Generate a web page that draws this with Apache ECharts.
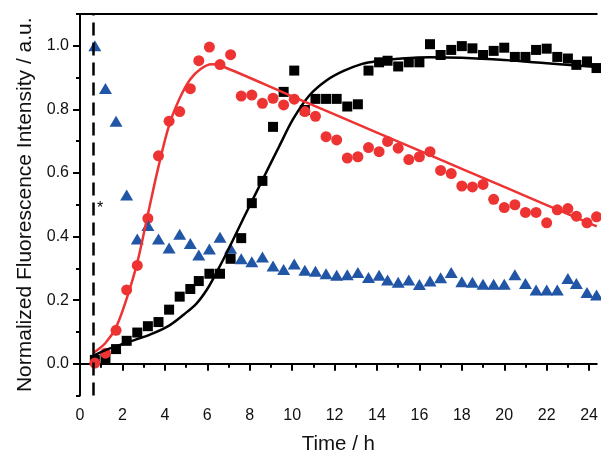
<!DOCTYPE html>
<html>
<head>
<meta charset="utf-8">
<script src="https://cdn.jsdelivr.net/npm/echarts@6/dist/echarts.min.js"></script>
<style>
  html, body { margin: 0; padding: 0; background: #fff; }
  #chart { width: 601px; height: 460px; }
</style>
</head>
<body>
<div id="chart"></div>
<script>
// Sampling times (h), shared by all three measurements
const times = [0.7, 1.2, 1.7, 2.2, 2.7, 3.2, 3.7, 4.2, 4.7, 5.2, 5.6, 6.1, 6.6, 7.1, 7.6,
  8.1, 8.6, 9.1, 9.6, 10.1, 10.6, 11.1, 11.6, 12.1, 12.6, 13.1, 13.6, 14.1, 14.5, 15.0,
  15.5, 16.0, 16.5, 17.0, 17.5, 18.0, 18.5, 19.0, 19.5, 20.0, 20.5, 21.0, 21.5, 22.0,
  22.5, 23.0, 23.4, 23.9, 24.35];

// Normalized ThT fluorescence
const wildtype = [0.012, 0.015, 0.046, 0.072, 0.098, 0.118, 0.131, 0.170, 0.211, 0.235,
  0.260, 0.283, 0.283, 0.330, 0.395, 0.505, 0.575, 0.745, 0.855, 0.922, 0.798, 0.833,
  0.833, 0.833, 0.809, 0.816, 0.922, 0.948, 0.953, 0.935, 0.948, 0.948, 1.005, 0.971,
  0.987, 0.999, 0.992, 0.971, 0.984, 0.994, 0.965, 0.965, 0.987, 0.991, 0.965, 0.960,
  0.940, 0.951, 0.930];

const octanoyl = [0.002, 0.033, 0.105, 0.232, 0.309, 0.457, 0.654, 0.763, 0.793, 0.865,
  0.953, 0.996, 0.941, 0.972, 0.842, 0.845, 0.819, 0.835, 0.814, 0.832, 0.793, 0.778,
  0.714, 0.704, 0.647, 0.651, 0.680, 0.667, 0.699, 0.678, 0.642, 0.651, 0.667, 0.608,
  0.598, 0.559, 0.556, 0.564, 0.517, 0.491, 0.500, 0.476, 0.476, 0.443, 0.484, 0.488,
  0.464, 0.443, 0.462];

const palmitoyl = [1.000, 0.866, 0.763, 0.531, 0.392, 0.435, 0.392, 0.364, 0.407, 0.378,
  0.342, 0.361, 0.398, 0.363, 0.330, 0.321, 0.336, 0.307, 0.296, 0.314, 0.294, 0.291,
  0.283, 0.278, 0.280, 0.287, 0.271, 0.278, 0.263, 0.256, 0.263, 0.249, 0.260, 0.270,
  0.287, 0.258, 0.256, 0.250, 0.250, 0.250, 0.280, 0.252, 0.232, 0.232, 0.232, 0.268,
  0.252, 0.224, 0.216];

// Fitted kinetic curves [time, intensity]
const wildtypeFit = [[0.65, 0.026], [1.2, 0.043], [1.8, 0.057], [2.6, 0.075], [3.35, 0.093],
  [4.2, 0.12], [4.9, 0.155], [5.5, 0.19], [6.0, 0.235], [6.5, 0.295], [7.0, 0.36],
  [7.8, 0.47], [8.6, 0.578], [9.4, 0.685], [10.05, 0.77], [10.8, 0.843], [11.6, 0.89],
  [12.4, 0.92], [13.3, 0.943], [14.0, 0.952], [15.0, 0.959], [16.5, 0.964], [18.0, 0.962],
  [20.0, 0.955], [22.0, 0.945], [24.36, 0.933]];

const octanoylFit = [[0.65, 0.035], [1.2, 0.065], [1.7, 0.115], [2.2, 0.205], [2.7, 0.318],
  [3.2, 0.47], [3.7, 0.62], [4.2, 0.75], [4.7, 0.835], [5.2, 0.895], [5.7, 0.928],
  [6.2, 0.942], [6.62, 0.938], [10.0, 0.841], [14.0, 0.727], [18.0, 0.613],
  [22.0, 0.499], [24.36, 0.432]];

// Legend entries
const seriesNames = ['Aβ(1-40) Wildtype', 'octanoyl-Aβ(1-40)', 'palmitoyl-Aβ(1-40)'];

// Tick positions
const xMajor = [0, 2, 4, 6, 8, 10, 12, 14, 16, 18, 20, 22, 24];
const xMinor = [1, 3, 5, 7, 9, 11, 13, 15, 17, 19, 21, 23];
const yMajor = [0, 0.2, 0.4, 0.6, 0.8, 1.0];
const yMinor = [-0.1, 0.1, 0.3, 0.5, 0.7, 0.9, 1.1];

const lagTime = 0.62;       // dashed marker line (h)
const starPos = [0.95, 0.489];

const X_MIN = 0, X_MAX = 24.36, Y_MIN = -0.1, Y_MAX = 1.1;
const FONT = 'Liberation Sans, Arial, Helvetica, sans-serif';
const INK = '#000';
const RED = '#ee3333';
const BLUE = '#2155a5';
const SWATCH = 'path://M0,0H10V10H0Z';

const pair = vals => times.map((t, i) => [t, vals[i]]);

const chart = echarts.init(document.getElementById('chart'), null, { renderer: 'canvas' });

const tickStyle = { color: INK, width: 2 };
const noHover = { legendHoverLink: false, emphasis: { disabled: true } };

chart.setOption({
  animation: false,
  backgroundColor: '#fff',
  textStyle: { fontFamily: FONT },
  grid: { left: 80, right: 0, top: 14, bottom: 58, containLabel: false },
  xAxis: [
    {
      type: 'value', min: X_MIN, max: X_MAX, position: 'bottom',
      name: 'Time / h', nameLocation: 'middle', nameGap: 49,
      nameTextStyle: { fontSize: 20.5, color: '#111', fontFamily: FONT, align: 'center', verticalAlign: 'middle' },
      axisLine: { show: true, lineStyle: { color: INK, width: 2 } },
      axisTick: { show: true, customValues: xMajor, length: 7, lineStyle: tickStyle },
      axisLabel: { show: true, customValues: xMajor, fontSize: 16, color: '#111', margin: 12, fontFamily: FONT },
      splitLine: { show: false }
    },
    {
      type: 'value', min: X_MIN, max: X_MAX, position: 'bottom',
      axisLine: { show: false },
      axisTick: { show: true, customValues: xMinor, length: 4, lineStyle: tickStyle },
      axisLabel: { show: false },
      splitLine: { show: false }
    },
    {
      type: 'value', min: X_MIN, max: X_MAX, position: 'top',
      axisLine: { show: true, lineStyle: { color: INK, width: 2 } },
      axisTick: { show: false },
      axisLabel: { show: false },
      splitLine: { show: false }
    }
  ],
  yAxis: [
    {
      type: 'value', min: Y_MIN, max: Y_MAX, position: 'left',
      name: 'Normalized Fluorescence Intensity / a.u.', nameLocation: 'middle', nameGap: 54,
      nameTextStyle: { fontSize: 21, color: '#111', fontFamily: FONT, align: 'center', verticalAlign: 'middle' },
      axisLine: { show: true, lineStyle: { color: INK, width: 2 } },
      axisTick: { show: true, customValues: yMajor, length: 7, lineStyle: tickStyle },
      axisLabel: {
        show: true, customValues: yMajor, fontSize: 16, color: '#111', margin: 11, fontFamily: FONT,
        formatter: v => v.toFixed(1)
      },
      splitLine: { show: false }
    },
    {
      type: 'value', min: Y_MIN, max: Y_MAX, position: 'left',
      axisLine: { show: false },
      axisTick: { show: true, customValues: yMinor, length: 4, lineStyle: tickStyle },
      axisLabel: { show: false },
      splitLine: { show: false }
    }
  ],
  legend: {
    show: false,
    data: seriesNames,
    orient: 'vertical',
    left: 418, top: 322,
    selectedMode: false,
    padding: 0,
    icon: SWATCH, symbolKeepAspect: true,
    itemWidth: 24, itemHeight: 9, itemGap: 6,
    textStyle: { fontSize: 18, color: '#111', fontFamily: FONT }
  },
  series: [
    Object.assign({
      name: seriesNames[0], type: 'scatter', data: pair(wildtype),
      symbol: 'rect', symbolSize: 10, clip: false,
      itemStyle: { color: INK, opacity: 1 },
      markLine: {
        silent: true, symbol: 'none', label: { show: false },
        lineStyle: { color: INK, width: 2.5, type: [13, 7] },
        data: [{ xAxis: lagTime }]
      },
      markPoint: {
        silent: true, symbol: 'circle', symbolSize: 1,
        itemStyle: { color: 'rgba(0,0,0,0)' },
        label: { show: true, position: 'inside', formatter: '*', fontSize: 16, color: INK, fontFamily: FONT },
        data: [{ coord: starPos }]
      }
    }, noHover),
    Object.assign({
      name: seriesNames[1], type: 'scatter', data: pair(octanoyl),
      symbol: 'circle', symbolSize: 11, clip: false,
      itemStyle: { color: RED, opacity: 1 }
    }, noHover),
    Object.assign({
      name: seriesNames[2], type: 'scatter', data: pair(palmitoyl),
      symbol: 'triangle', symbolSize: [13, 11], clip: false,
      itemStyle: { color: BLUE, opacity: 1 }
    }, noHover),
    Object.assign({
      name: 'wildtype fit', type: 'line', data: wildtypeFit, smooth: 0.35,
      showSymbol: false, silent: true, clip: true,
      lineStyle: { color: INK, width: 2.5 }, itemStyle: { color: INK }
    }, noHover),
    Object.assign({
      name: 'octanoyl fit', type: 'line', data: octanoylFit, smooth: 0.35,
      showSymbol: false, silent: true, clip: true,
      lineStyle: { color: RED, width: 2.5 }, itemStyle: { color: RED }
    }, noHover)
  ]
});
</script>
</body>
</html>
